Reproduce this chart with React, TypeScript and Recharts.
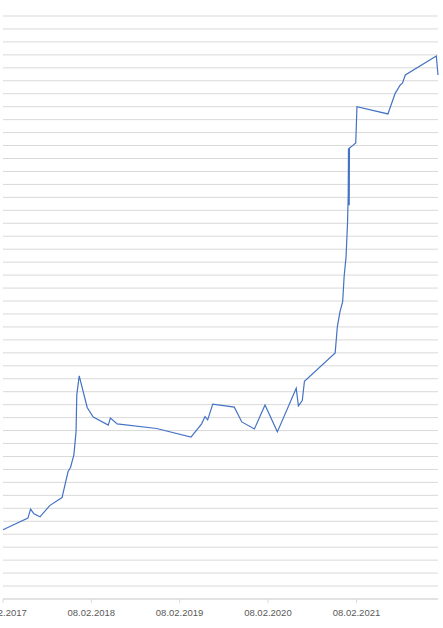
import { CartesianGrid, Line, LineChart, XAxis, YAxis } from "recharts"

const DATES = [
  "2017-02-08", "2017-05-22", "2017-06-02", "2017-06-16", "2017-07-11", "2017-08-20",
  "2017-10-10", "2017-11-04", "2017-11-14", "2017-11-28", "2017-12-07", "2017-12-10",
  "2017-12-20", "2018-01-22", "2018-02-16", "2018-04-19", "2018-04-28", "2018-05-26",
  "2018-11-05", "2019-03-27", "2019-05-10", "2019-05-24", "2019-06-04", "2019-06-25",
  "2019-09-22", "2019-10-23", "2019-12-14", "2020-01-06", "2020-01-27", "2020-03-18",
  "2020-06-04", "2020-06-13", "2020-06-29", "2020-07-08", "2020-11-12", "2020-11-21",
  "2020-12-02", "2020-12-13", "2020-12-19", "2020-12-27", "2021-01-02", "2021-01-05",
  "2021-01-06", "2021-01-09", "2021-01-10", "2021-01-17", "2021-02-05", "2021-02-10",
  "2021-06-18", "2021-07-18", "2021-08-08", "2021-08-17", "2021-08-29", "2022-01-04",
  "2022-01-11",
]

const VALUES = [
  5.34, 6.24, 6.94, 6.57, 6.34, 7.21,
  7.83, 9.84, 10.15, 11.13, 12.92, 15.76,
  17.22, 14.78, 14.04, 13.42, 13.96, 13.52,
  13.16, 12.49, 13.52, 14.08, 13.83, 15.04,
  14.81, 13.67, 13.12, 14.08, 14.98, 12.9,
  16.26, 14.91, 15.32, 16.81, 19.0, 21.03,
  22.18, 22.96, 24.88, 26.43, 29.0, 31.19,
  34.8, 30.4, 34.8, 34.9, 35.2, 38.0,
  37.44, 39.03, 39.68, 39.81, 40.45, 41.91,
  40.45,
]

const X_TICKS = ["2017-02-08", "2018-02-08", "2019-02-08", "2020-02-08", "2021-02-08"]
const Y_TICKS = Array.from({ length: 46 }, (_, i) => i)

const toTime = (d: string) => Date.parse(d + "T00:00:00Z")

const data = DATES.map((d, i) => ({ t: toTime(d), value: VALUES[i] }))

function formatDate(t: number) {
  const d = new Date(t)
  const dd = String(d.getUTCDate()).padStart(2, "0")
  const mm = String(d.getUTCMonth() + 1).padStart(2, "0")
  return `${dd}.${mm}.${d.getUTCFullYear()}`
}

export default function App() {
  return (
    <div style={{ position: "absolute", left: 0, top: 0, background: "#fff" }}>
      <LineChart
        width={443}
        height={628}
        data={data}
        margin={{ top: 16, right: 5, bottom: 0, left: 3 }}
      >
        <CartesianGrid vertical={false} stroke="#d9d9d9" strokeWidth={1} />
        <XAxis
          dataKey="t"
          type="number"
          scale="time"
          domain={[toTime(DATES[0]), toTime(DATES[DATES.length - 1])]}
          ticks={X_TICKS.map(toTime)}
          tickFormatter={formatDate}
          interval={0}
          height={29}
          stroke="#d9d9d9"
          tickSize={4}
          tickMargin={6}
          tick={{ fill: "#595959", fontSize: 9.5, fontFamily: "Liberation Sans, Arial, sans-serif" }}
        />
        <YAxis hide domain={[0, 45]} ticks={Y_TICKS} interval={0} />
        <Line
          type="linear"
          dataKey="value"
          stroke="#4472c4"
          strokeWidth={1.2}
          dot={false}
          isAnimationActive={false}
        />
      </LineChart>
    </div>
  )
}
